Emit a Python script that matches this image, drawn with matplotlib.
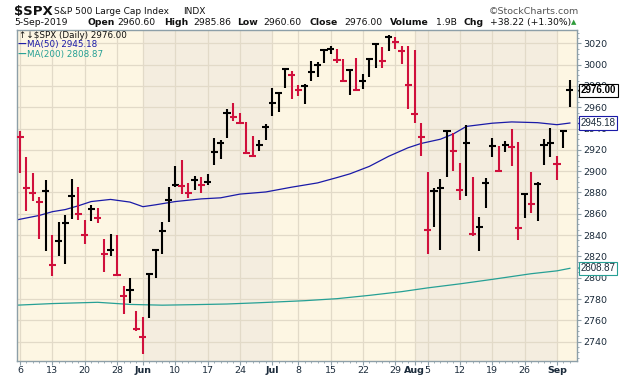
import matplotlib
matplotlib.use("Agg")
import matplotlib.pyplot as plt
import matplotlib.transforms as mtransforms
import numpy as np

# --- data: $SPX daily, 6-May-2019 .. 5-Sep-2019 ---
may_days = [6, 7, 8, 9, 10, 13, 14, 15, 16, 17, 20, 21, 22, 23, 24, 28, 29, 30, 31]
jun_days = [3, 4, 5, 6, 7, 10, 11, 12, 13, 14, 17, 18, 19, 20, 21, 24, 25, 26, 27, 28]
jul_days = [1, 2, 3, 5, 8, 9, 10, 11, 12, 15, 16, 17, 18, 19, 22, 23, 24, 25, 26, 29, 30, 31]
aug_days = [1, 2, 5, 6, 7, 8, 9, 12, 13, 14, 15, 16, 19, 20, 21, 22, 23, 26, 27, 28, 29, 30]
sep_days = [3, 4, 5]

highs = [2937.3, 2913.0, 2898.1, 2876.0, 2891.3, 2840.2, 2852.5, 2858.7, 2892.2, 2885.5,
         2853.9, 2868.0, 2865.5, 2836.0, 2841.4, 2840.5, 2792.0, 2799.6, 2769.0,
         2763.1, 2803.5, 2826.2, 2852.1, 2885.0, 2904.8, 2910.6, 2888.6, 2895.2, 2894.5,
         2897.3, 2930.8, 2929.3, 2958.1, 2964.2, 2954.9, 2946.5, 2932.6, 2929.7, 2944.0,
         2977.9, 2973.2, 2995.8, 2994.0, 2980.8, 2981.9, 3003.0, 3002.3, 3013.9, 3017.8,
         3015.0, 3005.3, 2995.9, 3006.0, 2990.7, 3005.9, 3019.6, 3016.3, 3028.0, 3025.6,
         3017.4, 3017.4,
         3013.6, 2945.5, 2898.8, 2884.4, 2892.2, 2938.7, 2935.8, 2907.6, 2943.3, 2894.2,
         2856.7, 2893.6, 2931.0, 2923.6, 2928.7, 2939.1, 2927.2, 2879.3, 2898.8, 2890.0,
         2930.5, 2940.4,
         2914.4, 2938.8, 2985.86]
lows = [2898.2, 2862.6, 2872.3, 2836.4, 2825.4, 2801.4, 2820.1, 2813.0, 2855.0, 2854.2,
        2831.3, 2853.6, 2851.1, 2805.5, 2820.2, 2801.6, 2766.1, 2776.7, 2750.5,
        2728.8, 2762.0, 2800.0, 2822.5, 2852.1, 2885.5, 2878.5, 2874.7, 2882.0, 2879.6,
        2886.9, 2905.4, 2911.3, 2931.5, 2946.9, 2944.1, 2916.0, 2913.0, 2918.6, 2929.1,
        2952.2, 2955.9, 2978.0, 2968.0, 2970.1, 2963.4, 2984.6, 2988.8, 3001.9, 3010.0,
        3001.2, 2984.3, 2971.0, 2975.9, 2976.7, 2988.6, 2996.8, 2997.2, 3012.6, 3014.3,
        3000.4, 2958.1,
        2945.2, 2914.1, 2822.1, 2847.4, 2825.7, 2894.5, 2900.2, 2873.1, 2877.1, 2839.6,
        2825.5, 2865.0, 2913.5, 2899.6, 2917.9, 2904.5, 2835.0, 2856.0, 2860.6, 2853.1,
        2905.7, 2913.3,
        2891.9, 2921.9, 2960.60]
closes = [2932.47, 2884.05, 2879.42, 2870.72, 2881.40, 2811.87, 2834.41, 2850.96, 2876.32, 2859.53,
          2840.23, 2864.36, 2856.27, 2822.24, 2826.06, 2802.39, 2783.02, 2788.86, 2752.06,
          2744.45, 2803.27, 2826.15, 2843.49, 2873.34, 2886.73, 2885.72, 2879.84, 2891.64, 2886.98,
          2889.67, 2917.75, 2926.46, 2954.18, 2950.46, 2945.35, 2917.38, 2913.78, 2924.92, 2941.76,
          2964.33, 2973.01, 2995.82, 2990.41, 2975.95, 2979.63, 2993.07, 2999.91, 3013.77, 3014.30,
          3004.04, 2984.42, 2995.11, 2976.61, 2985.03, 3005.47, 3019.56, 3003.67, 3025.86, 3020.97,
          3013.18, 2980.38,
          2953.56, 2932.05, 2844.74, 2881.77, 2883.98, 2938.09, 2918.65, 2882.70, 2926.32, 2840.60,
          2847.60, 2888.68, 2923.65, 2900.51, 2924.43, 2922.95, 2847.11, 2878.38, 2869.16, 2887.94,
          2924.58, 2926.46,
          2906.27, 2937.78, 2976.00]
prev_close = 2945.64  # 3-May close, colours the first bar

# moving averages (bar index, value)
ma50_x = [-0.5, 3, 5, 7, 9, 11, 14, 17, 19, 21, 24, 28, 31, 34, 38, 42, 46, 49, 51, 54,
          57, 60, 62, 65, 67, 69, 73, 76, 80, 83, 85]
ma50_y = [2854.3, 2858.5, 2862.0, 2864.0, 2867.5, 2871.5, 2873.5, 2871.0, 2866.7, 2868.5,
          2871.5, 2874.0, 2875.0, 2878.5, 2880.5, 2885.0, 2889.0, 2894.0, 2897.5, 2904.5,
          2914.0, 2922.0, 2926.0, 2930.0, 2935.0, 2942.0, 2945.0, 2946.2, 2945.5, 2943.6, 2945.18]
ma200_x = [-0.5, 5, 12, 17, 22, 27, 32, 37, 44, 49, 54, 59, 63, 68, 73, 79, 83, 85]
ma200_y = [2774.3, 2775.8, 2777.0, 2775.0, 2774.3, 2774.8, 2775.4, 2776.6, 2778.5, 2780.4,
           2783.5, 2787.0, 2790.5, 2794.3, 2798.5, 2803.8, 2806.5, 2808.87]

y_ticks = list(range(2740, 3021, 20))
tick_days = [(5, 6), (5, 13), (5, 20), (5, 28), (6, 3), (6, 10), (6, 17), (6, 24), (7, 1), (7, 8),
             (7, 15), (7, 22), (7, 29), (8, 1), (8, 5), (8, 12), (8, 19), (8, 26), (9, 3)]
tick_labels = ["6", "13", "20", "28", "Jun", "10", "17", "24", "Jul", "8",
               "15", "22", "29", "Aug", "5", "12", "19", "26", "Sep"]

open_v, high_v, low_v, close_v = "2960.60", "2985.86", "2960.60", "2976.00"
volume, change = "1.9B", "+38.22 (+1.30%)"

dates = ([(5, d) for d in may_days] + [(6, d) for d in jun_days] + [(7, d) for d in jul_days]
         + [(8, d) for d in aug_days] + [(9, d) for d in sep_days])
x = np.arange(len(dates))

RED, BLACK = "#d0103c", "#000000"
BLUE, TEAL = "#1a1aa8", "#26a095"
LIGHT, DARK = "#fdf6e3", "#f4eddf"
GRID, SPINE, TXT = "#e2dac8", "#8d9fa8", "#1b2b3b"

fig = plt.figure(figsize=(6.2, 3.76), dpi=100)
W, H = 620, 376
ax = fig.add_axes([16.7 / W, 1 - 360.5 / H, (577 - 16.7) / W, (360.5 - 29.5) / H])
ax.set_facecolor(LIGHT)
ax.set_xlim(-0.51, 86.1)
ax.set_ylim(2722.4, 3032.9)

# month shading
tick_pos = [dates.index(d) for d in tick_days]
ax.axvspan(dates.index((6, 3)), dates.index((7, 1)), color=DARK, lw=0, zorder=0)
ax.axvspan(dates.index((8, 1)), dates.index((9, 3)), color=DARK, lw=0, zorder=0)

for yv in y_ticks:
    ax.axhline(yv, color=GRID, lw=0.9, zorder=1)
for xv in tick_pos:
    ax.axvline(xv, color=GRID, lw=0.9, zorder=1)

ax.plot(ma200_x, ma200_y, color=TEAL, lw=0.9, zorder=2)
ax.plot(ma50_x, ma50_y, color=BLUE, lw=0.9, zorder=2)

prev = [prev_close] + closes[:-1]
cols = [RED if c < p else BLACK for c, p in zip(closes, prev)]
ax.vlines(x, lows, highs, colors=cols, lw=1.5, zorder=3)
ax.hlines(closes, x - 0.55, x + 0.55, colors=cols, lw=1.5, zorder=3)

for s in ax.spines.values():
    s.set_color(SPINE)
    s.set_linewidth(1.0)

ax.yaxis.tick_right()
ax.set_yticks(y_ticks)
ax.set_yticklabels([str(v) for v in y_ticks])
ax.set_yticks(np.arange(2725, 3031, 5), minor=True)
ax.tick_params(axis="y", which="major", length=3, width=0.8, color=SPINE, labelsize=6.8,
               labelcolor=TXT, pad=1.5)
ax.tick_params(axis="y", which="minor", length=1.5, width=0.6, color=SPINE)

ax.set_xticks(tick_pos)
ax.set_xticklabels(tick_labels)
ax.set_xticks(x, minor=True)
ax.tick_params(axis="x", which="major", length=3, width=0.8, color=SPINE, labelsize=6.8,
               labelcolor=TXT, pad=1)
ax.tick_params(axis="x", which="minor", length=1.5, width=0.6, color=SPINE)
for lab in ax.get_xticklabels():
    if not lab.get_text().isdigit():
        lab.set_fontweight("bold")

# value flags on the right axis
edge_tr = mtransforms.blended_transform_factory(ax.transAxes, ax.transData)

def flag(val, text, edge, bold=False):
    ax.plot([1.0], [val], marker="<", ms=5, mfc="white", mec=edge, mew=0.8,
            transform=mtransforms.offset_copy(edge_tr, fig=fig, x=2.6, y=0, units="points"),
            clip_on=False, zorder=5)
    ax.annotate(text, xy=(1.0, val), xycoords=edge_tr,
                xytext=(2.6, 0), textcoords="offset points", ha="left", va="center",
                fontsize=7, family="Liberation Sans",
                color=BLACK if bold else TXT, fontweight="bold" if bold else "normal",
                bbox=dict(boxstyle="square,pad=0.16", fc="white", ec=edge, lw=0.8),
                annotation_clip=False, zorder=6)

flag(closes[-1], close_v, BLACK, bold=True)
flag(ma50_y[-1], f"{ma50_y[-1]:.2f}", BLUE)
flag(ma200_y[-1], f"{ma200_y[-1]:.2f}", TEAL)

# header
def px(v):
    return v / W

def py(v):
    return 1 - v / H

fig.text(px(14), py(11), "$SPX", fontsize=9.5, fontweight="bold", va="center", color="#111111")
fig.text(px(54), py(11.5), "S&P 500 Large Cap Index", fontsize=6.5, va="center", color="#111111")
fig.text(px(183), py(11.5), "INDX", fontsize=6.5, va="center", color="#111111")
fig.text(px(579), py(11.5), "\u00a9StockCharts.com", fontsize=6.8, va="center", ha="right",
         color="#555555")

line2 = [(14, "5-Sep-2019", False), (88, "Open", True), (117, open_v, False),
         (164, "High", True), (193, high_v, False), (237, "Low", True), (263, low_v, False),
         (309, "Close", True), (344, close_v, False), (390, "Volume", True),
         (436, volume, False), (464, "Chg", True), (490, change, False)]
for xp, t, b in line2:
    fig.text(px(xp), py(22.5), t, fontsize=6.7, va="center",
             fontweight="bold" if b else "normal", color="#111111")
fig.text(px(574), py(22), "\u25b2", fontsize=5, va="center", ha="center", color="#2e9b3a")

# legend block inside the plot
fig.text(px(19), py(35), "\u2191\u2193$SPX (Daily) " + close_v, fontsize=6.3, va="center",
         color="#111111")
fig.text(px(18), py(44.5), "\u2014", fontsize=6.3, va="center", color=BLUE, fontweight="bold")
fig.text(px(27), py(44.5), f"MA(50) {ma50_y[-1]:.2f}", fontsize=6.3, va="center", color=BLUE)
fig.text(px(18), py(54.5), "\u2014", fontsize=6.3, va="center", color=TEAL, fontweight="bold")
fig.text(px(27), py(54.5), f"MA(200) {ma200_y[-1]:.2f}", fontsize=6.3, va="center", color=TEAL)

fig.savefig("out.png", dpi=100)
